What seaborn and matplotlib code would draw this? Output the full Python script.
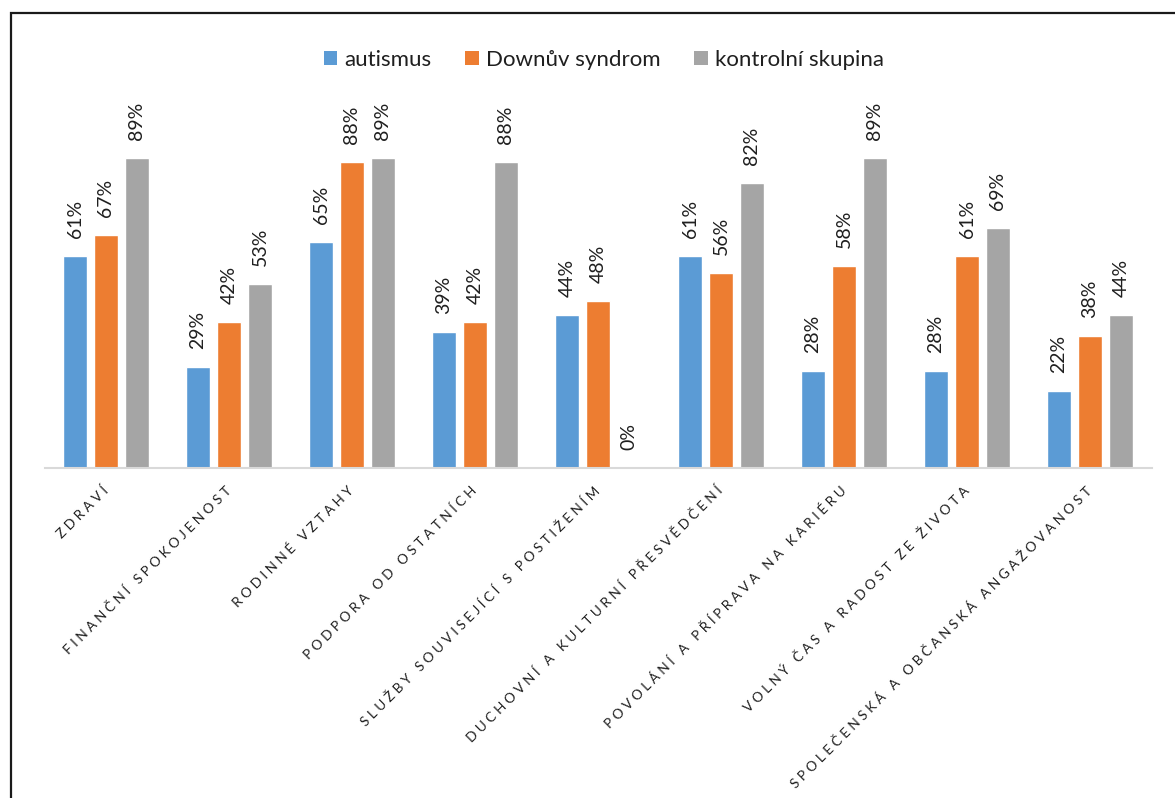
import matplotlib
matplotlib.use("Agg")
import matplotlib.pyplot as plt
from matplotlib.patches import Rectangle, Patch
import seaborn as sns
import pandas as pd

categories = [
    "ZDRAVÍ",
    "FINANČNÍ SPOKOJENOST",
    "RODINNÉ VZTAHY",
    "PODPORA OD OSTATNÍCH",
    "SLUŽBY SOUVISEJÍCÍ S POSTIŽENÍM",
    "DUCHOVNÍ A KULTURNÍ PŘESVĚDČENÍ",
    "POVOLÁNÍ A PŘÍPRAVA NA KARIÉRU",
    "VOLNÝ ČAS A RADOST ZE ŽIVOTA",
    "SPOLEČENSKÁ A OBČANSKÁ ANGAŽOVANOST",
]
groups = ["autismus", "Downův syndrom", "kontrolní skupina"]
autismus = [61, 29, 65, 39, 44, 61, 28, 28, 22]
down_syndrom = [67, 42, 88, 42, 48, 56, 58, 61, 38]
kontrolni = [89, 53, 89, 88, 0, 82, 89, 69, 44]
colors = ["#5B9BD5", "#ED7D31", "#A5A5A5"]

series = [autismus, down_syndrom, kontrolni]
df = pd.DataFrame(
    [(c, g, v) for g, vals in zip(groups, series) for c, v in zip(categories, vals)],
    columns=["kategorie", "skupina", "hodnota"],
)

sns.set_theme(style="white")
plt.rcParams["font.family"] = ["Lato", "DejaVu Sans"]

W, H = 1175, 798
fig = plt.figure(figsize=(W / 100, H / 100), dpi=100)
ax = fig.add_axes([44.5 / W, 1 - 468 / H, (1151.5 - 44.5) / W, (468 - 120) / H])

sns.barplot(
    data=df, x="kategorie", y="hodnota", hue="skupina",
    order=categories, hue_order=groups, palette=colors,
    width=0.756, gap=0.195, saturation=1, legend=False, ax=ax,
)

for cont, vals in zip(ax.containers, series):
    ax.bar_label(cont, labels=[f"{v}%" for v in vals], rotation=90,
                 padding=13, fontsize=14, color="#1f1f1f")

ax.set_ylim(0, 100)
ax.set_xlim(-0.5, len(categories) - 0.5)
ax.set_xlabel("")
ax.set_ylabel("")
ax.set_yticks([])
for s in ["left", "right", "top"]:
    ax.spines[s].set_visible(False)
ax.spines["bottom"].set_color("#D9D9D9")
ax.spines["bottom"].set_linewidth(1.5)


def spaced(text):
    # widen letter and word spacing of the category captions
    return "   ".join(" ".join(word) for word in text.split(" "))


ax.set_xticks(range(len(categories)))
ax.set_xticklabels([spaced(c) for c in categories], rotation=45, ha="right",
                   va="center", rotation_mode="anchor", fontsize=9.8, color="#1f1f1f")
ax.tick_params(axis="x", length=0, pad=15)

handles = [Patch(facecolor=c, edgecolor="none") for c in colors]
fig.legend(handles, groups, loc="center", bbox_to_anchor=(604 / W, 1 - 60 / H),
           ncol=3, frameon=False, fontsize=16, handlelength=0.6, handleheight=0.6,
           handletextpad=0.35, columnspacing=1.5, labelcolor="#1f1f1f")

# outer frame of the chart area
fig.add_artist(Rectangle((10.5 / W, -0.05), 1.2, 1 - 13 / H + 0.05,
                         transform=fig.transFigure, fill=False,
                         edgecolor="#1a1a1a", linewidth=1.6))

fig.savefig("out.png", dpi=100)
